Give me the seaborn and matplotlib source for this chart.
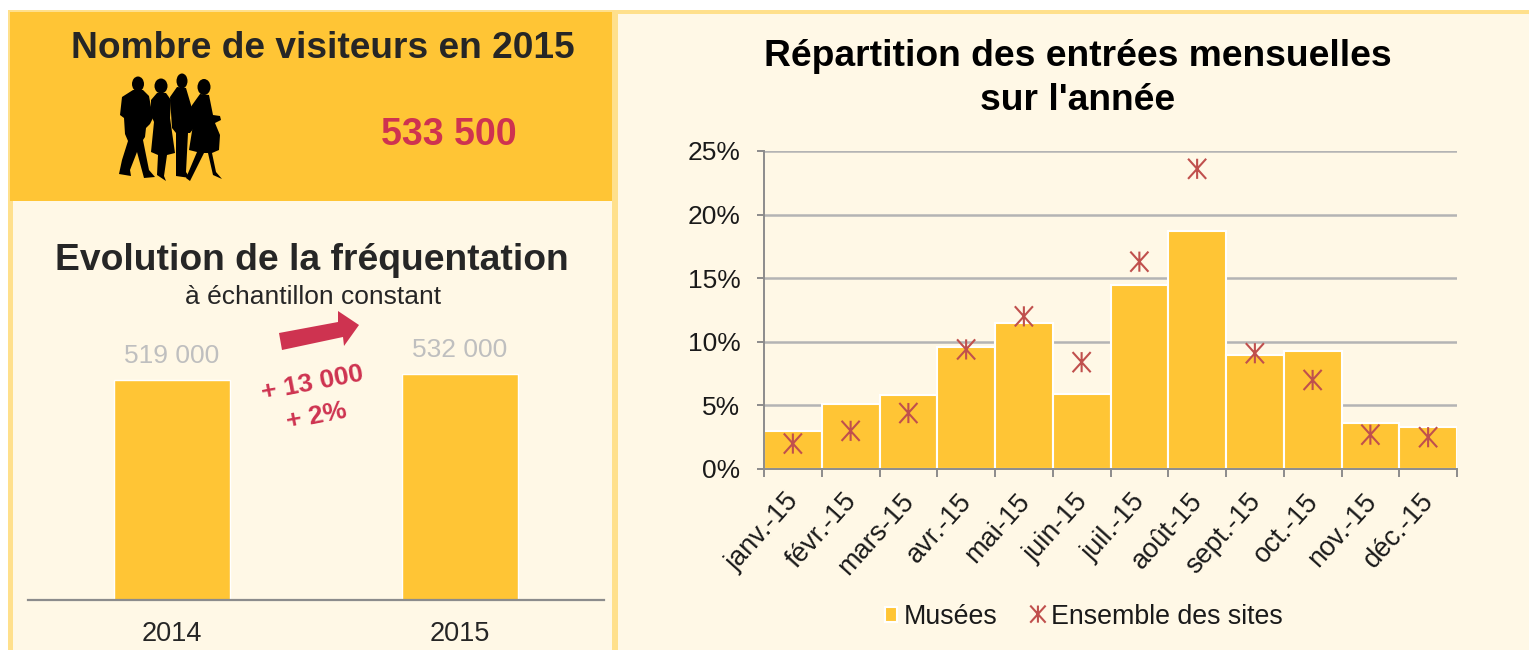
# -*- coding: utf-8 -*-
import matplotlib
matplotlib.use("Agg")
import matplotlib.pyplot as plt
from matplotlib.markers import MarkerStyle
from matplotlib.patches import Ellipse, Polygon, Rectangle
from matplotlib.path import Path
import numpy as np
import seaborn as sns

# data
annees = ["2014", "2015"]
visiteurs = [519000, 532000]
visiteurs_txt = ["519 000", "532 000"]
mois = ["janv.-15", "févr.-15", "mars-15", "avr.-15", "mai-15", "juin-15",
        "juil.-15", "août-15", "sept.-15", "oct.-15", "nov.-15", "déc.-15"]
musees = [3.0, 5.1, 5.8, 9.6, 11.5, 5.9, 14.5, 18.7, 9.0, 9.3, 3.6, 3.3]
sites = [2.0, 3.0, 4.4, 9.4, 12.0, 8.4, 16.3, 23.6, 9.1, 7.0, 2.7, 2.5]
pct_ticks = [0, 5, 10, 15, 20, 25]

JAUNE = "#FFC535"
CREME = "#FFF8E6"
BORD = "#FFE08C"
ROUGE = "#CE3350"
ASTER = "#C0504D"
NOIR = "#262626"

sns.set_theme(style="white")
plt.rcParams["font.family"] = ["Liberation Sans", "DejaVu Sans"]

W, H = 1529, 650
fig = plt.figure(figsize=(W / 100, H / 100), dpi=100, facecolor="white")


def box(x0, y0, x1, y1):
    return [x0 / W, 1 - y1 / H, (x1 - x0) / W, (y1 - y0) / H]


# background, pixel coordinates
bg = fig.add_axes([0, 0, 1, 1], zorder=0)
bg.set_xlim(0, W)
bg.set_ylim(H, 0)
bg.axis("off")
bg.add_patch(Rectangle((8, 10), 1521, 640, color=BORD, lw=0))
bg.add_patch(Rectangle((10, 12), 602, 189, color=JAUNE, lw=0))
bg.add_patch(Rectangle((13, 201), 599, 449, color=CREME, lw=0))
bg.add_patch(Rectangle((618, 14), 911, 636, color=CREME, lw=0))

# silhouettes of the visitors
for cx, cy, rx, ry in [(138, 84, 6, 7.5), (161, 86, 6.5, 7.5), (182, 81, 5.5, 7.5), (204, 87, 6.5, 8)]:
    bg.add_patch(Ellipse((cx, cy), 2 * rx, 2 * ry, color="black", lw=0))
people = [
    [(133, 90), (143, 90), (149, 96), (153, 118), (150, 124), (146, 128), (145, 137), (143, 140), (149, 170), (155, 177),
     (144, 178), (137, 152), (130, 170), (131, 176), (119, 174), (122, 160), (128, 141), (125, 134), (124, 118), (120, 115), (122, 97)],
    [(157, 93), (166, 93), (171, 100), (170, 118), (175, 153), (167, 155), (164, 176), (166, 181), (157, 175), (158, 155),
     (151, 152), (154, 122), (151, 115), (151, 100)],
    [(177, 87), (186, 88), (191, 105), (194, 128), (190, 133), (188, 133), (186, 172), (190, 178), (176, 176), (176, 133), (172, 128),
     (170, 97)],
    [(200, 94), (209, 95), (213, 115), (220, 116), (221, 120), (215, 123), (220, 135), (219, 150), (212, 153), (216, 172), (222, 179),
     (213, 175), (208, 153), (204, 153), (190, 181), (186, 178), (197, 152), (189, 150), (193, 125), (190, 108)],
]
for pts in people:
    bg.add_patch(Polygon(pts, closed=True, color="black", lw=0))

# red arrow
bg.add_patch(Polygon([(279, 333), (338, 322), (338, 311), (359, 325), (344, 346), (343, 337), (282, 350)],
                     closed=True, color=ROUGE, lw=0))

bg.text(323, 48, "Nombre de visiteurs en 2015", fontsize=26.7, fontweight="bold", color=NOIR, ha="center", va="center")
bg.text(449, 135, "533 500", fontsize=27, fontweight="bold", color=ROUGE, ha="center", va="center")
bg.text(312, 261, "Evolution de la fréquentation", fontsize=26.8, fontweight="bold", color=NOIR, ha="center", va="center")
bg.text(313, 297, "à échantillon constant", fontsize=19, color=NOIR, ha="center", va="center")
bg.text(312, 383, "+ 13 000", fontsize=19, fontweight="bold", color=ROUGE, ha="center", va="center", rotation=11)
bg.text(317, 416, "+ 2%", fontsize=19, fontweight="bold", color=ROUGE, ha="center", va="center", rotation=11)
bg.text(1078, 57, "Répartition des entrées mensuelles", fontsize=26.8, fontweight="bold", color="black", ha="center", va="center")
bg.text(1078, 101, "sur l'année", fontsize=26.8, fontweight="bold", color="black", ha="center", va="center")

# left chart
ax1 = fig.add_axes(box(28, 300, 604, 600), zorder=1)
ax1.patch.set_alpha(0)
sns.barplot(x=annees, y=visiteurs, color=JAUNE, saturation=1, width=0.405, ax=ax1)
ax1.set_xlim(-0.5, 1.5)
ax1.set_ylim(0, 300 * 2356)
ax1.bar_label(ax1.containers[0], labels=visiteurs_txt, fontsize=19, color="#BFBFBF", padding=8.5)
sns.despine(ax=ax1, left=True)
ax1.spines["bottom"].set_color("#8C8C8C")
ax1.spines["bottom"].set_linewidth(1.6)
ax1.set_yticks([])
ax1.set_ylabel("")
ax1.tick_params(axis="x", length=0, labelsize=19.5, labelcolor=NOIR, pad=15)

# excel style star: vertical bar plus an X
etoile = Path([(0, 1), (0, -1), (-0.9, 1), (0.9, -1), (-0.9, -1), (0.9, 1)],
              [Path.MOVETO, Path.LINETO, Path.MOVETO, Path.LINETO, Path.MOVETO, Path.LINETO])

# right chart
ax2 = fig.add_axes(box(764, 151, 1457, 469), zorder=1)
ax2.patch.set_alpha(0)
sns.barplot(x=mois, y=musees, color=JAUNE, saturation=1, width=1, edgecolor="white", linewidth=1.5,
            label="Musées", ax=ax2, zorder=3)
sns.scatterplot(x=np.arange(len(mois)), y=sites, marker=MarkerStyle(etoile, fillstyle="none"), s=210, color=ASTER,
                linewidth=1.5, label="Ensemble des sites", ax=ax2, zorder=4)
ax2.set_xlim(-0.5, 11.5)
ax2.set_ylim(0, 25)
ax2.set_yticks(pct_ticks)
ax2.set_yticklabels([f"{p}%" for p in pct_ticks])
ax2.set_ylabel("")
ax2.grid(axis="y", color="#B4B4B4", linewidth=1.8, zorder=1)
ax2.set_axisbelow(True)
sns.despine(ax=ax2, top=True, right=True)
for s in ["left", "bottom"]:
    ax2.spines[s].set_color("#8C8C8C")
    ax2.spines[s].set_linewidth(1.4)
    ax2.spines[s].set_zorder(5)
# labels sit a little left of the category centre
ax2.set_xticks(np.arange(12) - 0.14)
ax2.set_xticklabels(mois, rotation=48, ha="right", rotation_mode="anchor", fontsize=19.5, color="#1A1A1A")
ax2.set_xticks(np.arange(-0.5, 12), minor=True)
ax2.tick_params(axis="x", which="major", length=0, pad=14)
ax2.tick_params(axis="x", which="minor", length=5.8, width=1.4, color="#8C8C8C", bottom=True)
ax2.tick_params(axis="y", length=5, width=1.4, color="#8C8C8C", left=True, labelsize=19, labelcolor="#1A1A1A", pad=12)

handles, labels = ax2.get_legend_handles_labels()
ordre = [labels.index("Musées"), labels.index("Ensemble des sites")]
ax2.legend([handles[i] for i in ordre], [labels[i] for i in ordre], ncol=2, frameon=False, fontsize=19.3,
           loc="center", bbox_to_anchor=(0.461, -0.466), handlelength=0.45, handleheight=0.45,
           handletextpad=0.25, columnspacing=1.3, labelcolor="#1A1A1A", markerscale=0.85, scatteryoffsets=[0.7])

fig.savefig("out.png", dpi=100)
